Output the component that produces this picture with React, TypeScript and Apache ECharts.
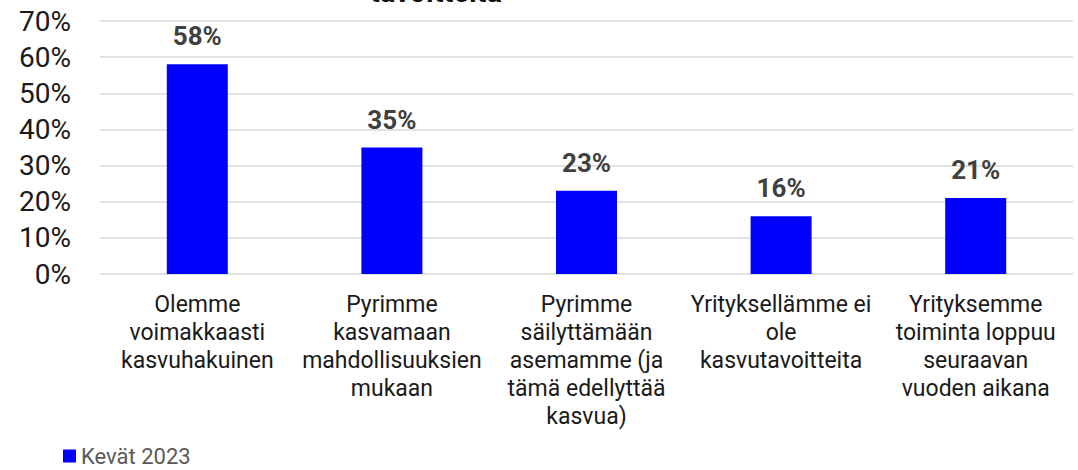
import React, { useEffect, useRef } from "react";
import * as echarts from "echarts";

const categories = [
  "Olemme\nvoimakkaasti\nkasvuhakuinen",
  "Pyrimme\nkasvamaan\nmahdollisuuksien\nmukaan",
  "Pyrimme\nsäilyttämään\nasemamme (ja\ntämä edellyttää\nkasvua)",
  "Yrityksellämme ei\nole\nkasvutavoitteita",
  "Yrityksemme\ntoiminta loppuu\nseuraavan\nvuoden aikana",
];
const seriesName = "Kevät 2023";
const values = [58, 35, 23, 16, 21];
const titleTail = "tavoitteita";

export default function App() {
  const ref = useRef<HTMLDivElement>(null);
  useEffect(() => {
    if (!ref.current) return;
    const chart = echarts.init(ref.current, null, { renderer: "svg" });
    chart.setOption({
      animation: false,
      backgroundColor: "#ffffff",
      textStyle: { fontFamily: "Roboto" },
      graphic: [
        {
          type: "text",
          left: 370,
          top: -23,
          style: {
            text: titleTail,
            font: "bold 29px Roboto",
            fill: "#111111",
          },
        },
      ],
      grid: { left: 100, right: 5, top: 21, bottom: 196, containLabel: false },
      legend: {
        left: 63,
        top: 445,
        itemWidth: 13,
        itemHeight: 13,
        itemGap: 4,
        padding: 0,
        icon: "rect",
        textStyle: { fontSize: 22, color: "#595959", fontFamily: "Roboto" },
        data: [seriesName],
      },
      xAxis: {
        type: "category",
        data: categories,
        axisLine: { show: false },
        axisTick: { show: false },
        axisLabel: {
          interval: 0,
          margin: 16,
          fontSize: 23,
          lineHeight: 28,
          color: "#1a1a1a",
          fontFamily: "Roboto",
        },
      },
      yAxis: {
        type: "value",
        min: 0,
        max: 70,
        interval: 10,
        axisLine: { show: false },
        axisTick: { show: false },
        splitLine: { lineStyle: { color: "#d9d9d9", width: 1.5 } },
        axisLabel: {
          formatter: "{value}%",
          fontSize: 28,
          margin: 29,
          color: "#1a1a1a",
          fontFamily: "Roboto",
        },
      },
      series: [
        {
          name: seriesName,
          type: "bar",
          data: values,
          barWidth: 61,
          itemStyle: { color: "#0000ff" },
          label: {
            show: true,
            position: "top",
            distance: 15,
            formatter: "{c}%",
            fontSize: 26,
            fontWeight: "bold",
            color: "#404040",
            fontFamily: "Roboto",
          },
        },
      ],
    });
    return () => chart.dispose();
  }, []);
  return (
    <div
      ref={ref}
      style={{ position: "fixed", left: 0, top: 0, width: 1078, height: 470 }}
    />
  );
}
